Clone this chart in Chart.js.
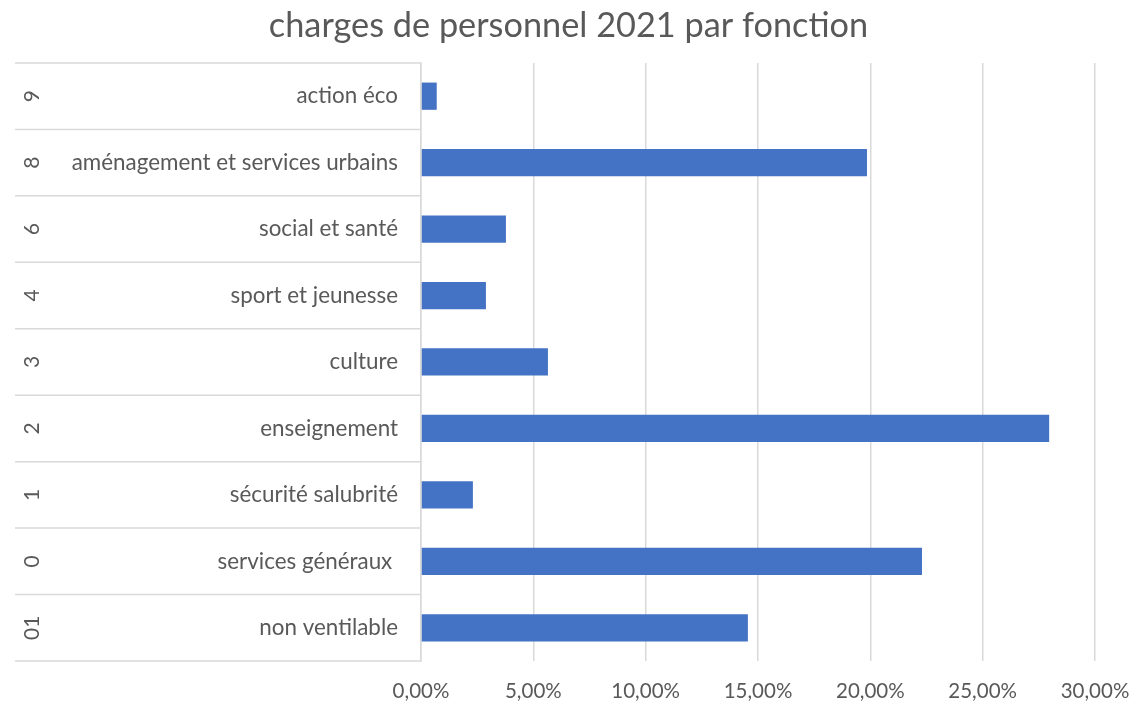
<!DOCTYPE html>
<html>
<head>
<meta charset="utf-8">
<script src="https://cdn.jsdelivr.net/npm/chart.js@4/dist/chart.umd.min.js"></script>
<style>
  html, body { margin: 0; padding: 0; background: #fff; }
  #wrap { width: 1137px; height: 706px; }
</style>
</head>
<body>
<div id="wrap"><canvas id="chart"></canvas></div>
<script>
const codes = ['9', '8', '6', '4', '3', '2', '1', '0', '01'];
const names = ['action éco', 'aménagement et services urbains', 'social et santé', 'sport et jeunesse',
    'culture', 'enseignement', 'sécurité salubrité', 'services généraux ', 'non ventilable'];
const values = [0.70, 19.85, 3.78, 2.89, 5.65, 27.96, 2.31, 22.30, 14.55];
const xTicks = [0, 5, 10, 15, 20, 25, 30];

const FONT = 'Lato, "Open Sans", sans-serif';
const TEXT = '#595959';
const LINE = '#d9d9d9';

// second level of the category axis: codes + separators in the label area
const groupAxis = {
    id: 'groupAxis',
    afterDraw(chart) {
        const ctx = chart.ctx;
        const y = chart.scales.y;
        const half = (y.bottom - y.top) / codes.length / 2;
        ctx.save();
        ctx.strokeStyle = LINE;
        ctx.lineWidth = 1.5;
        for (let i = 0; i < codes.length; i++) {
            const py = y.getPixelForValue(i);
            ctx.beginPath();
            ctx.moveTo(15, py - half);
            ctx.lineTo(y.right, py - half);
            ctx.stroke();
            if (i === codes.length - 1) {
                ctx.beginPath();
                ctx.moveTo(15, py + half);
                ctx.lineTo(y.right, py + half);
                ctx.stroke();
            }
            ctx.save();
            ctx.translate(32, py);
            ctx.rotate(-Math.PI / 2);
            ctx.fillStyle = TEXT;
            ctx.font = '21px ' + FONT;
            ctx.textAlign = 'center';
            ctx.textBaseline = 'middle';
            ctx.fillText(codes[i], 0, 0);
            ctx.restore();
        }
        ctx.restore();
    }
};

new Chart(document.getElementById('chart'), {
    type: 'bar',
    data: {
        labels: names,
        datasets: [{
            data: values,
            backgroundColor: '#4472C4',
            borderWidth: 0,
            categoryPercentage: 1,
            barPercentage: 0.41
        }]
    },
    options: {
        indexAxis: 'y',
        responsive: true,
        maintainAspectRatio: false,
        animation: false,
        plugins: {
            legend: { display: false },
            tooltip: { enabled: false },
            title: {
                display: true,
                text: 'charges de personnel 2021 par fonction',
                color: TEXT,
                font: { family: FONT, size: 34.3, weight: 'normal', lineHeight: 1.2 },
                padding: { top: 5, bottom: 16.8 }
            }
        },
        scales: {
            x: {
                min: 0,
                max: 30,
                afterBuildTicks(scale) {
                    scale.ticks = xTicks.map(v => ({ value: v }));
                },
                afterFit(scale) {
                    scale.height = 45;
                    scale.paddingLeft = 0;
                    scale.paddingRight = 42;
                },
                grid: { color: LINE, lineWidth: 1.5, drawTicks: false },
                border: { display: false },
                ticks: {
                    color: TEXT,
                    padding: 18,
                    font: { family: FONT, size: 20.5 },
                    callback: v => v.toFixed(2).replace('.', ',') + '%'
                }
            },
            y: {
                afterFit(scale) { scale.width = 421; },
                grid: { display: false },
                border: { display: true, color: LINE, width: 1.5 },
                ticks: {
                    color: TEXT,
                    padding: 15,
                    font: { family: FONT, size: 22.4 }
                }
            }
        }
    },
    plugins: [groupAxis]
});
</script>
</body>
</html>
